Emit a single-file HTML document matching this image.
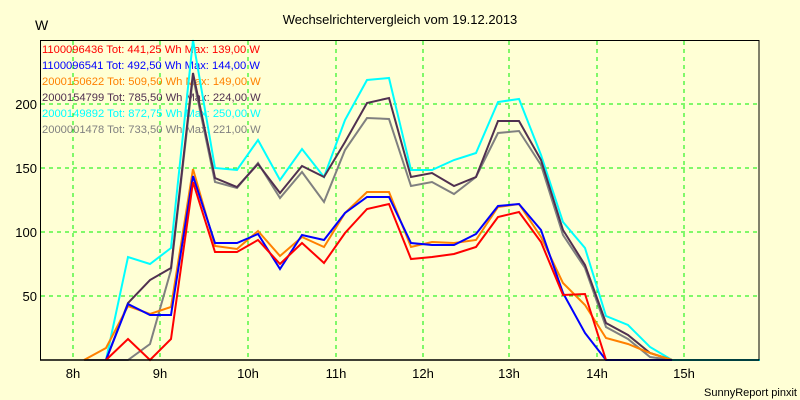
<!DOCTYPE html>
<html><head><meta charset="utf-8"><style>
body{margin:0;background:#FFFFD5;}
svg{display:block;font-family:"Liberation Sans",sans-serif;}
</style></head><body>
<svg width="800" height="400" xmlns="http://www.w3.org/2000/svg">
<rect width="800" height="400" fill="#FFFFD5"/>
<text x="400" y="24" font-size="13" text-anchor="middle" fill="#000">Wechselrichtervergleich vom 19.12.2013</text>
<text x="35" y="30" font-size="14" fill="#000">W</text>
<g stroke="#00F000" stroke-width="1" stroke-dasharray="4,4">
<line x1="73" y1="41" x2="73" y2="360"/><line x1="160" y1="41" x2="160" y2="360"/><line x1="248" y1="41" x2="248" y2="360"/><line x1="336" y1="41" x2="336" y2="360"/><line x1="423" y1="41" x2="423" y2="360"/><line x1="509" y1="41" x2="509" y2="360"/><line x1="597" y1="41" x2="597" y2="360"/><line x1="684" y1="41" x2="684" y2="360"/>
<line x1="41" y1="104" x2="759" y2="104"/><line x1="41" y1="168" x2="759" y2="168"/><line x1="41" y1="232" x2="759" y2="232"/><line x1="41" y1="296" x2="759" y2="296"/>
</g>
<g font-size="11.2">
<text x="42" y="53" fill="#FF0000">1100096436 Tot: 441,25 Wh Max: 139,00 W</text>
<text x="42" y="69" fill="#0000FF">1100096541 Tot: 492,50 Wh Max: 144,00 W</text>
<text x="42" y="85" fill="#FF8000">2000150622 Tot: 509,50 Wh Max: 149,00 W</text>
<text x="42" y="101" fill="#503050">2000154799 Tot: 785,50 Wh Max: 224,00 W</text>
<text x="42" y="117" fill="#00FFFF">2000149892 Tot: 872,75 Wh Max: 250,00 W</text>
<text x="42" y="133" fill="#808080">2000001478 Tot: 733,50 Wh Max: 221,00 W</text>
</g>
<g fill="none" stroke-width="2" stroke-linejoin="miter">
<polyline stroke="#808080" points="84,360 106,360 128,360 150,344 171,270 193,77 215,182 237,188 258,163 280,198 302,172 324,202 345,150 367,118 389,119 411,186 432,182 454,194 476,177 498,133 519,131 541,165 563,235 585,268 606,327 628,339 650,357 672,360 693,360 715,360 737,360 759,360"/>
<polyline stroke="#00FFFF" points="106,360 128,257 150,264 171,248 193,40 215,168 237,170 258,140 280,180 302,149 324,177 345,120 367,80 389,78 411,170 432,170 454,160 476,153 498,102 519,99 541,155 563,222 585,248 606,316 628,325 650,347 672,360 693,360 715,360 737,360 760,360"/>
<polyline stroke="#503050" points="106,360 128,303 150,280 171,268 193,73 215,178 237,187 258,164 280,193 302,166 324,177 345,142 367,103 389,98 411,177 432,173 454,186 476,177 498,121 519,121 541,160 563,230 585,265 606,323 628,335 650,353 672,360"/>
<polyline stroke="#FF8000" points="84,360 106,348 128,306 150,314 171,307 193,169 215,246 237,249 258,231 280,256 302,237 324,247 345,213 367,192 389,192 411,247 432,242 454,243 476,240 498,207 519,204 541,237 563,283 585,305 606,338 628,344 650,353 672,360"/>
<polyline stroke="#0000FF" points="106,360 128,304 150,315 171,315 193,176 215,243 237,243 258,234 280,269 302,235 324,240 345,213 367,197 389,197 411,243 432,245 454,245 476,234 498,206 519,204 541,230 563,293 585,333 606,360 628,360 650,360 672,360"/>
<polyline stroke="#FF0000" points="106,360 128,339 150,360 171,339 193,182 215,252 237,252 258,240 280,264 302,243 324,263 345,233 367,209 389,204 411,259 432,257 454,254 476,247 498,217 519,212 541,242 563,295 585,294 606,360"/>
</g>
<rect x="40.5" y="40.5" width="718.5" height="319.5" fill="none" stroke="#000" stroke-width="1"/>
<line x1="40" y1="360" x2="759" y2="360" stroke="#000" stroke-width="1.5"/>
<g font-size="13" text-anchor="end" fill="#000">
<text x="37" y="109">200</text><text x="37" y="173">150</text><text x="37" y="237">100</text><text x="37" y="301">50</text>
</g>
<g font-size="13" text-anchor="middle" fill="#000">
<text x="73" y="378">8h</text><text x="160" y="378">9h</text><text x="248" y="378">10h</text><text x="336" y="378">11h</text><text x="423" y="378">12h</text><text x="509" y="378">13h</text><text x="597" y="378">14h</text><text x="684" y="378">15h</text>
</g>
<text x="797" y="396" font-size="11" text-anchor="end" fill="#000">SunnyReport pinxit</text>
</svg>
</body></html>
